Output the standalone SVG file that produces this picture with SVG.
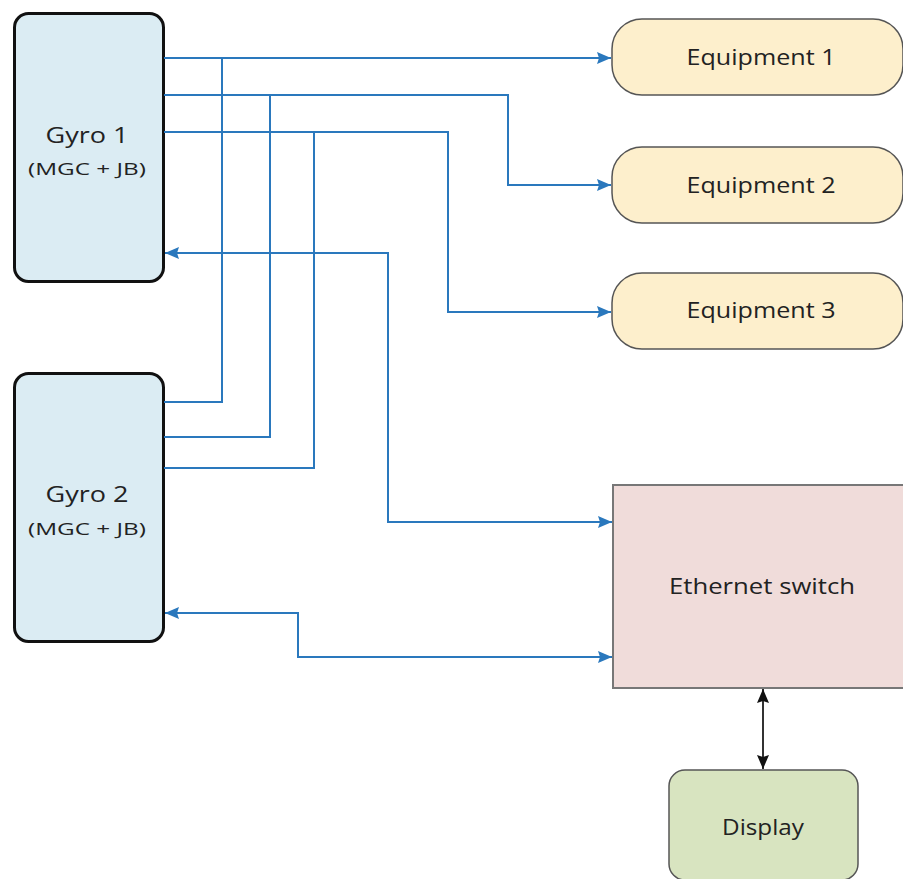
<svg xmlns="http://www.w3.org/2000/svg" width="903" height="879" viewBox="0 0 903 879">
<defs>
<marker id="ab" viewBox="0 0 14 12" refX="14" refY="6" markerWidth="14" markerHeight="12" markerUnits="userSpaceOnUse" orient="auto-start-reverse"><path d="M0,0 L14,6 L0,12 L2,6 z" fill="#2a78bd"/></marker>
<marker id="ak" viewBox="0 0 14 12" refX="14" refY="6" markerWidth="14" markerHeight="12" markerUnits="userSpaceOnUse" orient="auto-start-reverse"><path d="M0,0 L14,6 L0,12 L2,6 z" fill="#111"/></marker>
<style>
.gyro{fill:#dbecf3;stroke:#111;stroke-width:3}
.equip{fill:#fdefcc;stroke:#555;stroke-width:1.5}
.sw{fill:#f0dcda;stroke:#777;stroke-width:2}
.disp{fill:#d8e4c0;stroke:#555;stroke-width:1.5}
.t{font-family:"Open Sans","Liberation Sans",sans-serif;fill:#222;text-anchor:middle}
.big{font-size:21px}
.sm{font-size:16px}
.c{fill:none;stroke:#2a78bd;stroke-width:2}
.k{fill:none;stroke:#333;stroke-width:2}
</style>
</defs>
<g id="gyro1">
<rect class="gyro" x="14.5" y="13.5" width="149" height="268" rx="14"/>
<text class="t big" x="87" y="143" textLength="83" lengthAdjust="spacingAndGlyphs">Gyro 1</text>
<text class="t sm" x="87" y="175" textLength="118" lengthAdjust="spacingAndGlyphs">(MGC + JB)</text>
</g>
<g id="gyro2">
<rect class="gyro" x="14.5" y="373.5" width="149" height="268" rx="14"/>
<text class="t big" x="87" y="502" textLength="83" lengthAdjust="spacingAndGlyphs">Gyro 2</text>
<text class="t sm" x="87" y="535" textLength="118" lengthAdjust="spacingAndGlyphs">(MGC + JB)</text>
</g>
<g id="equipment1">
<rect class="equip" x="612" y="19" width="291" height="76" rx="30"/>
<text class="t big" x="761" y="65" textLength="149" lengthAdjust="spacingAndGlyphs">Equipment 1</text>
</g>
<g id="equipment2">
<rect class="equip" x="612" y="147" width="291" height="76" rx="30"/>
<text class="t big" x="761" y="193" textLength="149" lengthAdjust="spacingAndGlyphs">Equipment 2</text>
</g>
<g id="equipment3">
<rect class="equip" x="612" y="273" width="291" height="76" rx="30"/>
<text class="t big" x="761" y="318" textLength="149" lengthAdjust="spacingAndGlyphs">Equipment 3</text>
</g>
<g id="ethernet-switch">
<rect class="sw" x="613" y="485" width="292" height="203"/>
<text class="t big" x="762" y="594" textLength="186" lengthAdjust="spacingAndGlyphs">Ethernet switch</text>
</g>
<g id="display">
<rect class="disp" x="669" y="770" width="189" height="110" rx="16"/>
<text class="t big" x="763" y="835" textLength="82" lengthAdjust="spacingAndGlyphs">Display</text>
</g>
<g id="connectors">
<path class="c" d="M164 58 H611" marker-end="url(#ab)"/>
<path class="c" d="M222 58 V402 H164"/>
<path class="c" d="M164 95 H508 V185 H611" marker-end="url(#ab)"/>
<path class="c" d="M270 95 V437 H164"/>
<path class="c" d="M164 132 H448 V312 H611" marker-end="url(#ab)"/>
<path class="c" d="M314 132 V468 H164"/>
<path class="c" d="M612 522 H388 V253 H165" marker-start="url(#ab)" marker-end="url(#ab)"/>
<path class="c" d="M612 657 H298 V613 H165" marker-start="url(#ab)" marker-end="url(#ab)"/>
<path class="k" d="M763 689 V769" marker-start="url(#ak)" marker-end="url(#ak)"/>
</g>
</svg>
